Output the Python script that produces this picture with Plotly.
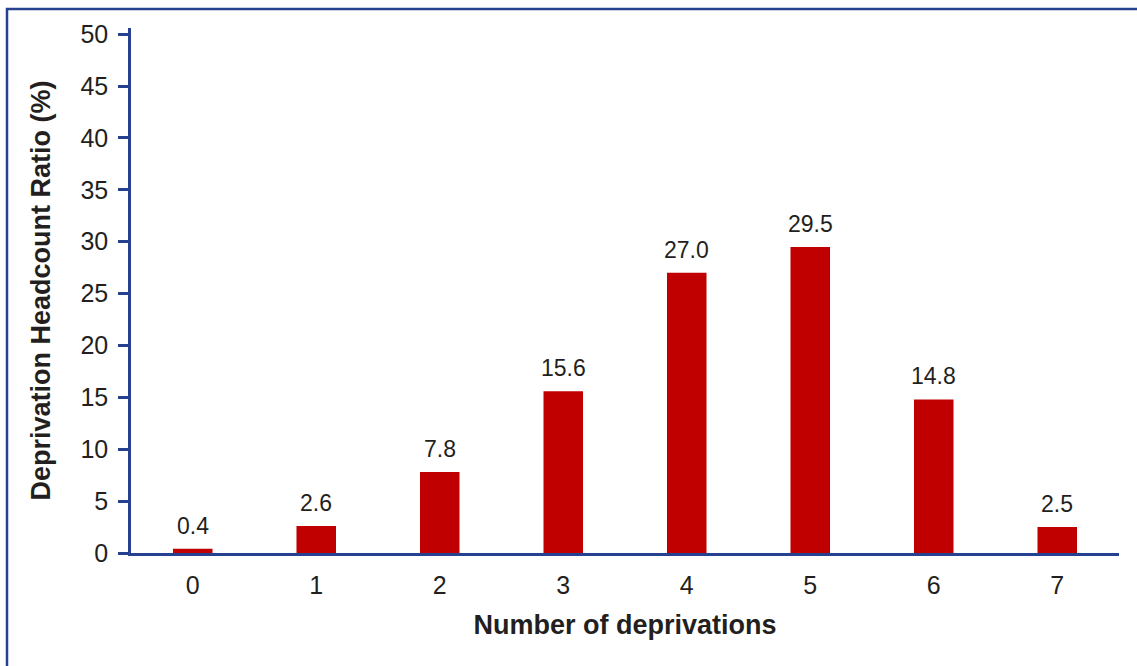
import plotly.graph_objects as go

categories = ["0", "1", "2", "3", "4", "5", "6", "7"]
values = [0.4, 2.6, 7.8, 15.6, 27.0, 29.5, 14.8, 2.5]
y_ticks = [0, 5, 10, 15, 20, 25, 30, 35, 40, 45, 50]

AXIS_BLUE = "#26418f"
BAR_RED = "#c00000"
TEXT = "#231f20"
FONT = "Liberation Sans, Arial, sans-serif"

fig = go.Figure()
fig.add_trace(go.Bar(
    x=categories,
    y=values,
    marker=dict(color=BAR_RED, line=dict(width=0)),
    width=0.32,
    hoverinfo="x+y",
))

# value labels above each bar
for c, v in zip(categories, values):
    fig.add_annotation(
        x=c, y=v, xref="x", yref="y",
        text=f"{v:.1f}", showarrow=False,
        yanchor="bottom", yshift=8,
        font=dict(family=FONT, size=23, color=TEXT),
    )

# frame around the figure
fig.add_shape(
    type="rect", xref="paper", yref="paper",
    x0=-0.1255, x1=1.2, y0=-0.5, y1=1.036,
    line=dict(color=AXIS_BLUE, width=2.5), fillcolor="rgba(0,0,0,0)",
    layer="below",
)

fig.update_layout(
    width=1137, height=666,
    margin=dict(l=131, r=18, t=28, b=113),
    paper_bgcolor="white", plot_bgcolor="white",
    showlegend=False,
    font=dict(family=FONT, color=TEXT),
    bargap=0.68,
    xaxis=dict(
        type="category",
        range=[-0.5, 7.5],
        showline=True, linecolor=AXIS_BLUE, linewidth=2.5,
        ticks="", showgrid=False, zeroline=False,
        ticklabelstandoff=8,
        tickfont=dict(family=FONT, size=25, color=TEXT),
        title=dict(text="<b>Number of deprivations</b>", standoff=18,
                   font=dict(family=FONT, size=27, color=TEXT)),
    ),
    yaxis=dict(
        range=[0, 50.6],
        tickvals=y_ticks,
        showline=True, linecolor=AXIS_BLUE, linewidth=2.5,
        ticks="outside", ticklen=10, tickwidth=2.5, tickcolor=AXIS_BLUE,
        showgrid=False, zeroline=False,
        ticklabelstandoff=5,
        tickfont=dict(family=FONT, size=25, color=TEXT),
        title=dict(text="<b>Deprivation Headcount Ratio (%)</b>", standoff=22,
                   font=dict(family=FONT, size=27, color=TEXT)),
    ),
)

fig.write_html("out.html")
